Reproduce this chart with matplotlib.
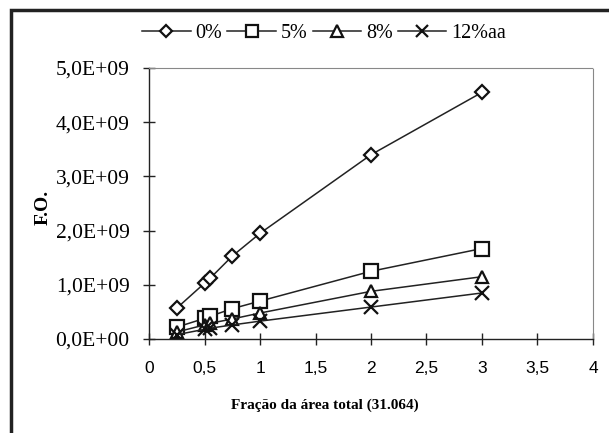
import matplotlib.pyplot as plt
from matplotlib.ticker import FuncFormatter, MultipleLocator
from matplotlib.patches import Rectangle

# fraction of total area
frac = [0.25, 0.5, 0.55, 0.75, 1, 2, 3]

fo_0 = [0.57e9, 1.03e9, 1.12e9, 1.53e9, 1.95e9, 3.40e9, 4.55e9]
fo_5 = [0.22e9, 0.38e9, 0.42e9, 0.56e9, 0.70e9, 1.25e9, 1.67e9]
fo_8 = [0.13e9, 0.26e9, 0.29e9, 0.37e9, 0.48e9, 0.88e9, 1.15e9]
fo_12 = [0.08e9, 0.18e9, 0.20e9, 0.26e9, 0.33e9, 0.59e9, 0.85e9]

labels = ['0%', '5%', '8%', '12%aa']
markers = ['D', 's', '^', 'x']
sizes = [7, 10, 9, 10]

fig = plt.figure(figsize=(6.09, 4.33), dpi=100)
ax = fig.add_axes([0.2447, 0.217, 0.729, 0.626])

for ys, lab, m, s in zip([fo_0, fo_5, fo_8, fo_12], labels, markers, sizes):
    ax.plot(frac, ys, color='#222222', lw=1.1, marker=m, ms=s,
            mfc='white', mec='#111111', mew=1.6, label=lab)

ax.set_xlim(0, 4)
ax.set_ylim(0, 5e9)
ax.xaxis.set_major_locator(MultipleLocator(0.5))
ax.yaxis.set_major_locator(MultipleLocator(1e9))
ax.xaxis.set_major_formatter(FuncFormatter(lambda v, p: f'{v:g}'.replace('.', ',')))
ax.yaxis.set_major_formatter(FuncFormatter(lambda v, p: f'{v:.1E}'.replace('.', ',')))

for sp in ['top', 'right']:
    ax.spines[sp].set_linestyle((0, (1, 1)))
    ax.spines[sp].set_color('#888888')
    ax.spines[sp].set_linewidth(0.8)
for sp in ['left', 'bottom']:
    ax.spines[sp].set_color('#222222')
    ax.spines[sp].set_linewidth(1.0)

ax.tick_params(direction='inout', length=8, width=1, color='#222222')
for t in ax.get_yticklabels():
    t.set_fontfamily('Liberation Serif')
    t.set_fontsize(15.5)
for t in ax.get_xticklabels():
    t.set_fontfamily('Liberation Sans')
    t.set_fontsize(12.5)
ax.tick_params(axis='x', pad=12)
ax.tick_params(axis='y', pad=10)

fig.text(0.534, 0.065, 'Fração da área total (31.064)', family='Liberation Serif',
         fontweight='bold', fontsize=11, ha='center', va='center')
fig.text(0.071, 0.52, 'F.O.', family='Liberation Serif', fontweight='bold',
         fontsize=14, rotation=90, ha='center', va='center')

fig.legend(loc='center', bbox_to_anchor=(0.532, 0.923), ncol=4, frameon=False,
           prop={'family': 'Liberation Serif', 'size': 14.5},
           handlelength=2.4, handletextpad=0.25, columnspacing=0.25, markerscale=0.9)

# outer frame (top and left edges visible)
fig.patches.append(Rectangle((0.018, -0.1), 1.1, 1.077, transform=fig.transFigure,
                             fill=False, lw=2.5, ec='#222222'))

fig.savefig('out.png', dpi=100)
